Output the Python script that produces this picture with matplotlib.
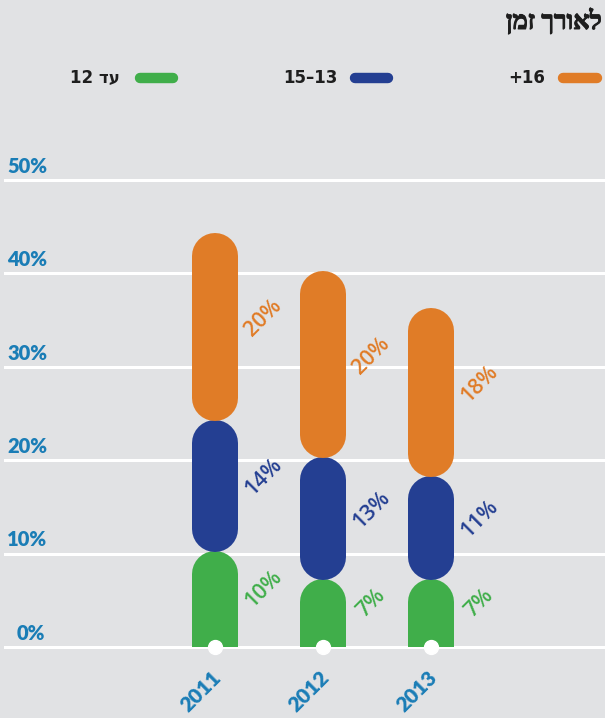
import matplotlib
matplotlib.use("Agg")
import matplotlib.pyplot as plt
import matplotlib.patheffects as pe
import numpy as np
import re

# ---- data ----
years = ["2011", "2012", "2013"]
series_names = ["עד 12", "15–13", "+16"]
upto12 = [10, 7, 7]
age13_15 = [14, 13, 11]
age16plus = [20, 20, 18]
yticks = [0, 10, 20, 30, 40, 50]
ytick_labels = ["0%", "10%", "20%", "30%", "40%", "50%"]
title = "לאורך זמן"

colors = ["#40ae4a", "#243f92", "#e07c27"]
bg = "#e1e2e4"
axis_blue = "#1a7db6"


def vis(s):
    """Reorder Hebrew text for visual (left-to-right) rendering."""
    if not re.search(r"[\u0590-\u05FF]", s):
        return s
    parts = re.split(r"(\s+)", s)
    parts = [p[::-1] if re.search(r"[\u0590-\u05FF]", p) else p for p in parts]
    return "".join(parts[::-1])


fig = plt.figure(figsize=(6.05, 7.18), dpi=100, facecolor=bg)
W, H = 605, 718
y0_px, y50_px = 647, 180
ax = fig.add_axes([5 / W, (H - y0_px) / H, 600 / W, (y0_px - y50_px) / H])
ax.set_facecolor(bg)
ax.set_ylim(0, 50)
ax.set_xlim(-1.94, 3.61)
for s in ax.spines.values():
    s.set_visible(False)
ax.set_xticks([])
ax.set_yticks([])

# gridlines and y labels
for v, lab in zip(yticks, ytick_labels):
    ax.axhline(v, color="white", lw=2.2, zorder=1, clip_on=False)
    ax.text(-1.92 if v > 0 else -1.83, v + 0.45, lab, color=axis_blue, fontsize=14.5,
            fontweight="heavy", family=["Lato", "DejaVu Sans"], ha="left", va="bottom")

px_per_unit = (y0_px - y50_px) / 50.0
bar_px = 46
r = (bar_px / 2) / px_per_unit
lw = bar_px * 72 / 100
gap = 0.4

x = np.arange(len(years))
for i in range(len(years)):
    vals = [upto12[i], age13_15[i], age16plus[i]]
    start = 0
    for k, v in enumerate(vals):
        a, b = start, start + v
        lo = a + gap / 2 + r if k > 0 else -10
        hi = b - gap / 2 - r + 0.5
        ax.plot([x[i], x[i]], [lo, hi], color=colors[k], lw=lw,
                solid_capstyle="round", zorder=2)
        ax.text(x[i] + 0.45, (a + b) / 2 + 1.2, f"{v}%", color=colors[k],
                fontsize=15.5, rotation=45, ha="center", va="center",
                family=["Open Sans", "DejaVu Sans"], fontweight="semibold", zorder=3)
        start = b
    ax.plot(x[i], 0, "o", color="white", ms=10, zorder=4, clip_on=False)
    ax.text(x[i] - 0.13, -4.7, years[i], color=axis_blue, fontsize=15, rotation=45,
            ha="center", va="center", family=["Lato", "DejaVu Sans"],
            fontweight="heavy", clip_on=False)

# legend
leg_y = 1 - 78 / H
legend_items = [(135, 178, 120), (350, 393, 338), (558, 602, 545)]
for k, (x0, x1, tx) in enumerate(legend_items):
    fig.add_artist(plt.Line2D([(x0 + 5) / W, (x1 - 5) / W], [leg_y, leg_y],
                              color=colors[k], lw=7.5, solid_capstyle="round",
                              transform=fig.transFigure))
    fig.text(tx / W, leg_y, vis(series_names[k]), ha="right", va="center",
             fontsize=12, fontweight="bold", color="#1e1e1e",
             family=["DejaVu Sans"])

# title
fig.text(602 / W, 1 - 21 / H, vis(title), ha="right", va="center", fontsize=18.5,
         fontweight="bold", color="#1e1e1e", family=["Liberation Serif", "DejaVu Sans"],
         path_effects=[pe.withStroke(linewidth=0.8, foreground="#1e1e1e")])

fig.savefig("out.png", dpi=100, facecolor=bg)
